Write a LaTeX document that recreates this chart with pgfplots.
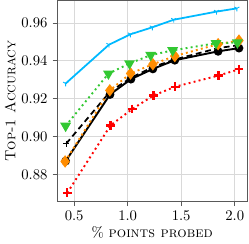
\documentclass[border=0pt]{standalone}
\usepackage{pgfplots}
\pgfplotsset{compat=1.18}
\definecolor{cyanc}{RGB}{0,185,255}
\definecolor{greenc}{RGB}{50,200,50}
\definecolor{orangec}{RGB}{255,140,0}
\definecolor{redc}{RGB}{255,0,0}
\begin{document}
\begin{tikzpicture}
\begin{axis}[
  scale only axis,
  width=129.3pt, height=136.9pt,
  xmin=0.34, xmax=2.117,
  ymin=0.8655, ymax=0.9719,
  xtick={0.5,1.0,1.5,2.0},
  ytick={0.88,0.90,0.92,0.94,0.96},
  xticklabel style={/pgf/number format/fixed,/pgf/number format/fixed zerofill,/pgf/number format/precision=1},
  yticklabel style={/pgf/number format/fixed,/pgf/number format/fixed zerofill,/pgf/number format/precision=2},
  grid=major,
  major grid style={draw=black!15, line width=0.6pt},
  axis line style={draw=black!65, line width=0.6pt},
  tick align=outside,
  major tick length=3pt,
  tick style={draw=black!65, line width=0.6pt},
  xtick pos=bottom, ytick pos=left,
  xlabel={\% \textsc{points probed}},
  ylabel={\textsc{Top-1 Accuracy}},
  xlabel style={yshift=3pt},
  ylabel style={yshift=-3pt},
  clip=false,
]
% cyan
\addplot[color=cyanc, line width=1.2pt, mark=Mercedes star flipped, mark size=2pt, mark options={line width=0.6pt}]
  coordinates {(0.42,0.928) (0.825,0.9485) (1.025,0.954) (1.23,0.9577) (1.43,0.9617) (1.83,0.966) (2.02,0.9677)};
% black solid
\addplot[color=black, line width=1.3pt, mark=*, mark size=2.3pt]
  coordinates {(0.42,0.887) (0.835,0.9222) (1.03,0.9303) (1.235,0.9357) (1.44,0.9403) (1.845,0.945) (2.04,0.9467)};
% black dashed
\addplot[color=black, line width=1.2pt, dash pattern=on 4pt off 2.5pt, mark=+, mark size=2pt, mark options={solid, line width=0.6pt}]
  coordinates {(0.425,0.8962) (0.835,0.9237) (1.03,0.931) (1.235,0.9367) (1.44,0.9407) (1.845,0.9467) (2.04,0.9483)};
% orange dotted
\addplot[color=orangec, line width=1.3pt, dash pattern=on 1.3pt off 2.2pt, mark=diamond*, mark size=3.2pt, mark options={solid}]
  coordinates {(0.415,0.8868) (0.833,0.9244) (1.027,0.9333) (1.235,0.9382) (1.44,0.9425) (1.845,0.9488) (2.04,0.9507)};
% green dotted
\addplot[color=greenc, line width=1.3pt, dash pattern=on 1.3pt off 2.2pt, mark=triangle*, mark size=3pt, mark options={solid, rotate=180}]
  coordinates {(0.42,0.9056) (0.82,0.9332) (1.017,0.9386) (1.215,0.943) (1.42,0.9455) (1.825,0.9493) (2.025,0.9496)};
% red dotted
\addplot[color=redc, line width=1.3pt, dash pattern=on 1.3pt off 2.2pt, mark=+, mark size=3pt, mark options={solid, line width=1.6pt}]
  coordinates {(0.435,0.8702) (0.84,0.9059) (1.042,0.9145) (1.242,0.9217) (1.443,0.9263) (1.848,0.9322) (2.04,0.9355)};
\end{axis}
\end{tikzpicture}
\end{document}
